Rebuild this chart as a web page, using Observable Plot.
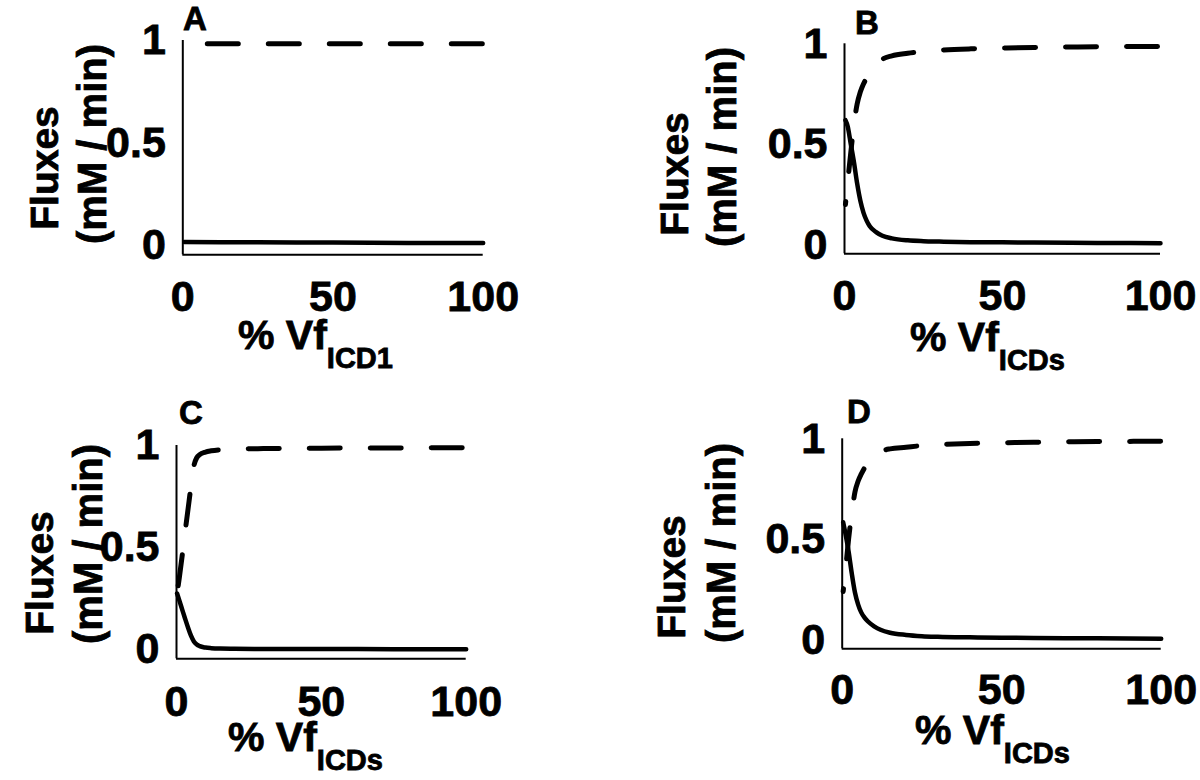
<!DOCTYPE html>
<html><head><meta charset="utf-8">
<script src="https://cdn.jsdelivr.net/npm/d3@7"></script>
<script src="https://cdn.jsdelivr.net/npm/@observablehq/plot@0.6"></script>
<style>
html,body{margin:0;padding:0;background:#fff;}
#wrap{position:relative;width:1200px;height:780px;overflow:hidden;background:#fff;}
#wrap > svg{position:absolute;margin:0;}
</style></head>
<body><div id="wrap"></div>
<script>
// ---- data ----
const xTicks = [0, 50, 100];
const yTicks = [0, 0.5, 1];
const xDomain = [0, 100];
const yDomain = [-0.045, 1];

const xA = [0.5, 25, 50, 75, 100];
const aSolid = [0.017, 0.016, 0.015, 0.013, 0.012];
const aDashed = [0.984, 0.984, 0.984, 0.984, 0.984];

const xB = [0.3, 1, 2, 3, 4, 5, 6, 7, 8, 10, 12, 15, 20, 25, 30, 40, 50, 60, 80, 100];
const bSolid = [0.62, 0.59, 0.5, 0.41, 0.305, 0.22, 0.16, 0.12, 0.092, 0.063, 0.045, 0.032, 0.022, 0.018, 0.016, 0.013, 0.012, 0.011, 0.009, 0.008];
const bDashed = [0.2, 0.31, 0.46, 0.6, 0.7, 0.76, 0.8, 0.83, 0.86, 0.895, 0.923, 0.94, 0.953, 0.962, 0.968, 0.975, 0.979, 0.982, 0.985, 0.987];

const xC = [0.2, 1, 2, 3, 4, 5, 6, 7, 8, 10, 12, 15, 20, 30, 50, 75, 100];
const cSolid = [0.275, 0.24, 0.195, 0.15, 0.107, 0.068, 0.04, 0.025, 0.017, 0.01, 0.007, 0.005, 0.004, 0.003, 0.003, 0.002, 0.002];
const cDashed = [0.275, 0.355, 0.465, 0.58, 0.69, 0.8, 0.9, 0.94, 0.955, 0.968, 0.974, 0.979, 0.982, 0.985, 0.987, 0.988, 0.989];

const xD = [0.3, 1, 2, 3, 4, 5, 6, 7, 8, 10, 12, 15, 20, 25, 30, 40, 50, 60, 80, 100];
const dSolid = [0.585, 0.53, 0.44, 0.33, 0.235, 0.175, 0.135, 0.11, 0.092, 0.067, 0.05, 0.035, 0.024, 0.018, 0.015, 0.012, 0.01, 0.009, 0.007, 0.005];
const dDashed = [0.24, 0.34, 0.5, 0.63, 0.735, 0.79, 0.825, 0.855, 0.88, 0.91, 0.935, 0.95, 0.958, 0.966, 0.971, 0.977, 0.98, 0.983, 0.986, 0.988];

const panelLetters = ["A", "B", "C", "D"];
const yLabel1 = "Fluxes";
const yLabel2 = "(mM / min)";
const xLabelMain = "% Vf";
const xLabelSubs = ["ICD1", "ICDs", "ICDs", "ICDs"];

// ---- layout ----
const FONT = "'Liberation Sans', Arial, Helvetica, sans-serif";
const panels = [
  {xs: xA, solid: aSolid, dashed: aDashed, left: 0, top: 0, f: {l: 182.3, r: 482.7, t: 40, b: 254.3}, dashOff: 38, xPad: 26,
   letter: [183, 30], lab1: [58, 168], lab2: [106, 144], xl: [238, 349]},
  {xs: xB, solid: bSolid, dashed: bDashed, left: 600, top: 0, f: {l: 844, r: 1160, t: 43.3, b: 253.3}, dashOff: 28, xPad: 26,
   letter: [855, 34], lab1: [688, 174], lab2: [736, 147], xl: [910, 351]},
  {xs: xC, solid: cSolid, dashed: cDashed, left: 0, top: 390, f: {l: 176, r: 465.7, t: 445, b: 658.3}, dashOff: 53, xPad: 27,
   letter: [179, 424], lab1: [53, 573], lab2: [102, 544], xl: [228, 751]},
  {xs: xD, solid: dSolid, dashed: dDashed, left: 600, top: 390, f: {l: 841.7, r: 1160.7, t: 438.3, b: 648.3}, dashOff: 28, xPad: 25,
   letter: [847, 423], lab1: [685, 577], lab2: [735, 543], xl: [915, 744]}
];

const wrap = document.getElementById("wrap");

panels.forEach((p) => {
  const rows = p.xs.map((x, i) => ({x, solid: p.solid[i], dashed: p.dashed[i]}));
  const W = 600, H = 390;
  const svg = Plot.plot({
    width: W, height: H,
    marginLeft: p.f.l - p.left,
    marginRight: p.left + W - p.f.r,
    marginTop: p.f.t - p.top,
    marginBottom: p.top + H - p.f.b,
    style: {fontFamily: FONT, fontWeight: "bold", fontSize: "43px", color: "black", background: "transparent", overflow: "visible"},
    x: {domain: xDomain, ticks: xTicks, tickSize: 0, tickPadding: p.xPad, label: null, tickFormat: d => String(d)},
    y: {domain: yDomain, ticks: yTicks, tickSize: 0, tickPadding: 17, label: null, tickFormat: d => String(d)},
    marks: [
      Plot.ruleX([xDomain[0]], {stroke: "black", strokeWidth: 2}),
      Plot.ruleY([yDomain[0]], {stroke: "black", strokeWidth: 2}),
      Plot.line(rows, {x: "x", y: "dashed", stroke: "black", strokeWidth: 5, curve: "monotone-x",
        strokeDasharray: "31,30", strokeDashoffset: p.dashOff}),
      Plot.line(rows, {x: "x", y: "solid", stroke: "black", strokeWidth: 4.5, curve: "monotone-x"})
    ]
  });
  svg.querySelectorAll("text").forEach(t => {
    t.setAttribute("stroke", "black");
    t.setAttribute("stroke-width", "0.8");
  });
  svg.style.position = "absolute";
  svg.style.left = p.left + "px";
  svg.style.top = p.top + "px";
  wrap.appendChild(svg);
});

// overlay with panel letters and axis titles
const ov = d3.create("svg").attr("width", 1200).attr("height", 780)
  .style("position", "absolute").style("left", "0px").style("top", "0px")
  .attr("font-family", FONT).attr("font-weight", "bold").attr("fill", "black")
  .attr("stroke", "black").attr("stroke-width", 0.8);

panels.forEach((p, i) => {
  ov.append("text").attr("x", p.letter[0]).attr("y", p.letter[1]).attr("font-size", 33).text(panelLetters[i]);
  ov.append("text").attr("transform", `translate(${p.lab1[0]},${p.lab1[1]}) rotate(-90)`)
    .attr("text-anchor", "middle").attr("font-size", 39).text(yLabel1);
  ov.append("text").attr("transform", `translate(${p.lab2[0]},${p.lab2[1]}) rotate(-90)`)
    .attr("text-anchor", "middle").attr("font-size", 40).text(yLabel2);
  const t = ov.append("text").attr("x", p.xl[0]).attr("y", p.xl[1]).attr("font-size", 41);
  t.append("tspan").text(xLabelMain);
  t.append("tspan").attr("font-size", 29).attr("dy", 19).text(xLabelSubs[i]);
});
wrap.appendChild(ov.node());
</script>
</body></html>
